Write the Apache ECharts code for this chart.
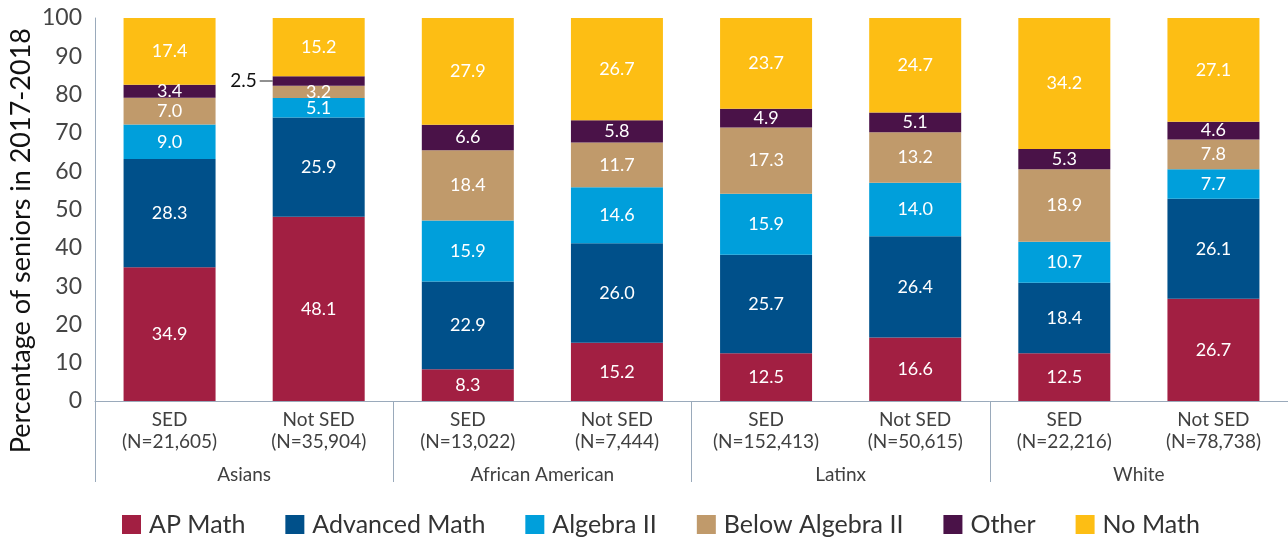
<!DOCTYPE html>
<html>
<head>
<meta charset="utf-8">
<script src="https://cdn.jsdelivr.net/npm/echarts@6/dist/echarts.min.js"></script>
<style>html,body{margin:0;padding:0;background:#fff}#c{width:1288px;height:537px}</style>
</head>
<body>
<div id="c"></div>
<script>
const categories = ['SED\n(N=21,605)','Not SED\n(N=35,904)','SED\n(N=13,022)','Not SED\n(N=7,444)','SED\n(N=152,413)','Not SED\n(N=50,615)','SED\n(N=22,216)','Not SED\n(N=78,738)'];
const groups = ['Asians','African American','Latinx','White'];
const apMath = [34.9,48.1,8.3,15.2,12.5,16.6,12.5,26.7];
const advancedMath = [28.3,25.9,22.9,26.0,25.7,26.4,18.4,26.1];
const algebraII = [9.0,5.1,15.9,14.6,15.9,14.0,10.7,7.7];
const belowAlgebraII = [7.0,3.2,18.4,11.7,17.3,13.2,18.9,7.8];
const other = [3.4,2.5,6.6,5.8,4.9,5.1,5.3,4.6];
const noMath = [17.4,15.2,27.9,26.7,23.7,24.7,34.2,27.1];
const yTicks = [0,10,20,30,40,50,60,70,80,90,100];

const FONT = 'Lato';
const axisColor = '#9aaabb';
const colors = ['#A21F42','#00508A','#009FDB','#C09A6B','#4A1248','#FDBE14'];
const names = ['AP Math','Advanced Math','Algebra II','Below Algebra II','Other','No Math'];
const datasets = [apMath, advancedMath, algebraII, belowAlgebraII, other, noMath];

const series = datasets.map((d, i) => ({
  name: names[i],
  type: 'bar',
  stack: 'total',
  barWidth: 92,
  xAxisIndex: 0,
  itemStyle: {color: colors[i]},
  label: {
    show: true, position: 'inside', color: '#fff', fontSize: 18, fontFamily: FONT,
    formatter: p => p.value.toFixed(1)
  },
  data: d.map((v, j) => {
    if (i === 4 && j === 1) {
      return {
        value: v,
        label: {
          position: 'left', distance: 0,
          formatter: '{v|' + v.toFixed(1) + '}{l|}',
          rich: {
            v: {color: '#111', fontSize: 19, fontFamily: FONT, padding: [0, 3, 0, 0]},
            l: {width: 13, height: 1, backgroundColor: '#222', verticalAlign: 'middle'}
          }
        }
      };
    }
    return v;
  }),
  emphasis: {disabled: true}
}));

const chart = echarts.init(document.getElementById('c'));
chart.setOption({
  animation: false,
  textStyle: {fontFamily: FONT},
  grid: {left: 95, right: 0, top: 18, bottom: 136},
  legend: {
    top: 507, left: 117, itemWidth: 19, itemHeight: 19, itemGap: 40,
    icon: 'rect',
    textStyle: {fontSize: 25, color: '#333', fontFamily: FONT, padding: [0,0,0,3]},
    data: names
  },
  xAxis: [
    {
      type: 'category', data: categories, position: 'bottom',
      axisLine: {show: true, lineStyle: {color: axisColor, width: 1}},
      axisTick: {show: false},
      axisLabel: {color: '#404040', fontSize: 19, lineHeight: 22, margin: 8, fontFamily: FONT, interval: 0}
    },
    {
      type: 'category', data: groups, position: 'bottom', gridIndex: 0,
      axisLine: {show: false},
      axisTick: {show: true, length: 81, lineStyle: {color: axisColor, width: 1}, alignWithLabel: false},
      axisLabel: {color: '#404040', fontSize: 19, margin: 64, fontFamily: FONT, interval: 0}
    }
  ],
  yAxis: {
    type: 'value', min: 0, max: 100, interval: 10,
    axisLine: {show: true, lineStyle: {color: axisColor, width: 1}},
    axisTick: {show: false},
    splitLine: {show: false},
    axisLabel: {color: '#444', fontSize: 23, margin: 13, fontFamily: FONT,
      formatter: v => yTicks.includes(v) ? String(v) : ''}
  },
  graphic: [{
    type: 'text', left: 8, top: 28, rotation: Math.PI / 2,
    style: {text: 'Percentage of seniors in 2017-2018', fill: '#111', fontSize: 27, fontFamily: FONT}
  }],
  series: series
});
</script>
</body>
</html>
